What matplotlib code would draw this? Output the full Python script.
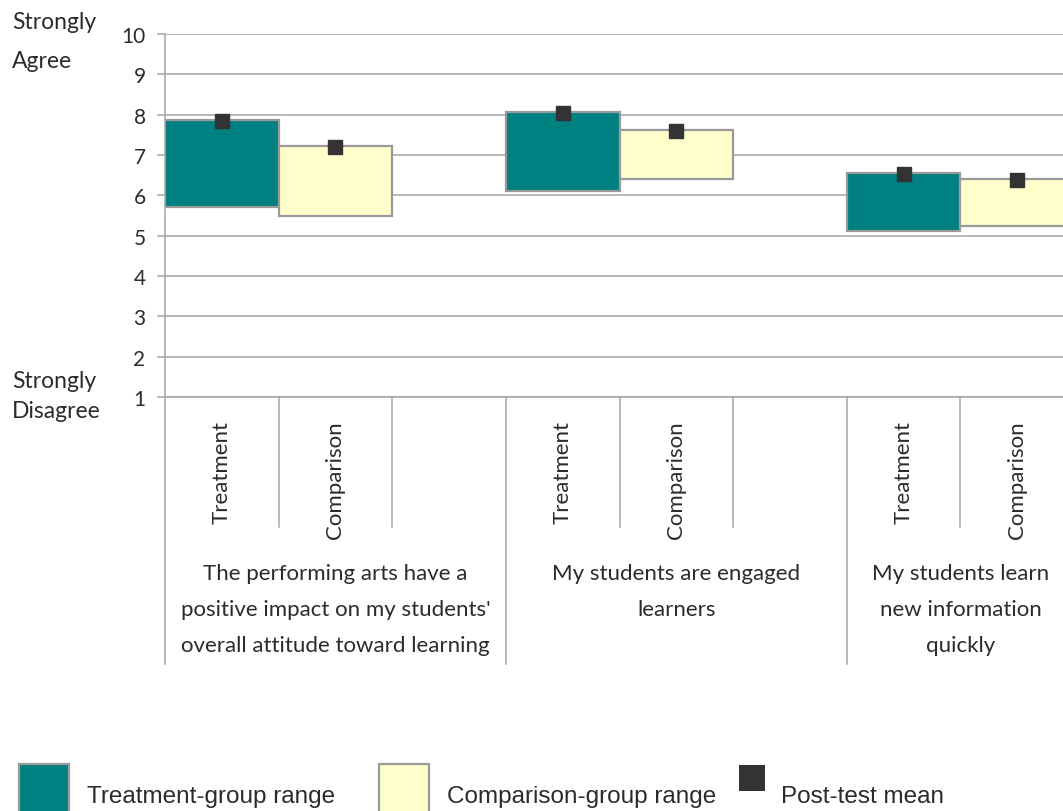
"""
Teacher survey: treatment vs comparison ranges with post-test means.
"""

import matplotlib
matplotlib.use("Agg")
import matplotlib.pyplot as plt
from matplotlib.patches import Rectangle
from matplotlib.transforms import blended_transform_factory


# ── Colours ──────────────────────────────────────────────────────────────────

TEAL      = "#008080"
CREAM     = "#FFFFCC"
MEAN_GREY = "#333333"
EDGE_GREY = "#9A9A9A"
GRID_GREY = "#A6A6A6"
TEXT      = "#2B2B2B"

FONT = ["Lato", "DejaVu Sans"]
LEGEND_FONT = ["Liberation Sans", "DejaVu Sans"]


# ── Data ─────────────────────────────────────────────────────────────────────

statements = [
    "The performing arts have a\npositive impact on my students'\noverall attitude toward learning",
    "My students are engaged\nlearners",
    "My students learn\nnew information\nquickly",
]
groups = ["Treatment", "Comparison"]

treat_low  = [5.70, 6.10, 5.12]
treat_high = [7.87, 8.06, 6.55]
treat_mean = [7.84, 8.04, 6.52]

comp_low  = [5.50, 6.40, 5.25]
comp_high = [7.22, 7.61, 6.40]
comp_mean = [7.19, 7.59, 6.38]

y_ticks = list(range(1, 11))
scale_ends = ["Strongly\nAgree", "Strongly\nDisagree"]
legend_labels = ["Treatment-group range", "Comparison-group range", "Post-test mean"]


# ── Layout (pixels) ──────────────────────────────────────────────────────────

W, H = 1063, 812


def fy(px):
    return 1 - px / H


fig = plt.figure(figsize=(W / 100, H / 100), dpi=100)
fig.patch.set_facecolor("white")

ax = fig.add_axes([165 / W, fy(398), (1074 - 165) / W, (398 - 35) / H])

# each statement gets three slots: treatment, comparison, spacer (last one clipped)
n_slots = 3 * len(statements) - 1
treat_x = [3 * i + 0.5 for i in range(len(statements))]
comp_x  = [3 * i + 1.5 for i in range(len(statements))]

ax.bar(treat_x, [h - l for h, l in zip(treat_high, treat_low)], bottom=treat_low,
       width=1.0, color=TEAL, edgecolor=EDGE_GREY, linewidth=1.6, zorder=3)
ax.bar(comp_x, [h - l for h, l in zip(comp_high, comp_low)], bottom=comp_low,
       width=1.0, color=CREAM, edgecolor=EDGE_GREY, linewidth=1.6, zorder=3)
ax.plot(treat_x + comp_x, treat_mean + comp_mean, linestyle="none",
        marker="s", markersize=10.5, color=MEAN_GREY, zorder=4, clip_on=False)

ax.set_xlim(0, n_slots)
ax.set_ylim(1, 10)
ax.set_yticks(y_ticks)
ax.set_xticks([])
ax.yaxis.grid(True, color=GRID_GREY, linewidth=1.1)
ax.set_axisbelow(True)
for side in ("top", "right"):
    ax.spines[side].set_visible(False)
for side in ("left", "bottom"):
    ax.spines[side].set_color(GRID_GREY)
    ax.spines[side].set_linewidth(1.1)
ax.tick_params(axis="y", length=6, width=1.1, color=GRID_GREY, pad=8,
               labelsize=15, labelcolor=TEXT)
for lab in ax.get_yticklabels():
    lab.set_fontfamily(FONT)

# ── Category axis below the plot ─────────────────────────────────────────────

trans = blended_transform_factory(ax.transData, fig.transFigure)

for i, statement in enumerate(statements):
    start = 3 * i
    ax.plot([start, start], [fy(398), fy(665)], transform=trans,
            color=GRID_GREY, linewidth=1.1, clip_on=False)
    for j, name in enumerate(groups):
        ax.text(start + j + 0.5, fy(421), name, transform=trans, rotation=90,
                ha="center", va="top", fontsize=16, color=TEXT, family=FONT)
    for k in range(1, 3):
        if start + k < n_slots:
            ax.plot([start + k, start + k], [fy(398), fy(528)], transform=trans,
                    color=GRID_GREY, linewidth=1.1, clip_on=False)
    center = start + min(3, n_slots - start) / 2
    for k, line in enumerate(statement.split("\n")):
        ax.text(center, fy(580 + 36 * k), line, transform=trans, ha="center",
                va="baseline", fontsize=16, color=TEXT, family=FONT)

# ── Scale end labels ─────────────────────────────────────────────────────────

for label, baselines in zip(scale_ends, [(29, 68), (388, 418)]):
    for line, base in zip(label.split("\n"), baselines):
        fig.text(12 / W, fy(base), line, ha="left", va="baseline", fontsize=16.5,
                 color=TEXT, family=FONT)

# ── Legend ───────────────────────────────────────────────────────────────────

fig.patches.append(Rectangle((19 / W, fy(815)), 50 / W, 50 / H, transform=fig.transFigure,
                             facecolor=TEAL, edgecolor=EDGE_GREY, linewidth=1.6))
fig.patches.append(Rectangle((379 / W, fy(815)), 50 / W, 50 / H, transform=fig.transFigure,
                             facecolor=CREAM, edgecolor=EDGE_GREY, linewidth=1.6))
fig.patches.append(Rectangle((739 / W, fy(792)), 26 / W, 26 / H, transform=fig.transFigure,
                             facecolor=MEAN_GREY, edgecolor="none"))
for x, label in zip([87, 447, 781], legend_labels):
    fig.text(x / W, fy(803), label, ha="left", va="baseline", fontsize=17.5,
             color=TEXT, family=LEGEND_FONT)

fig.savefig("out.png", dpi=100, facecolor="white")
